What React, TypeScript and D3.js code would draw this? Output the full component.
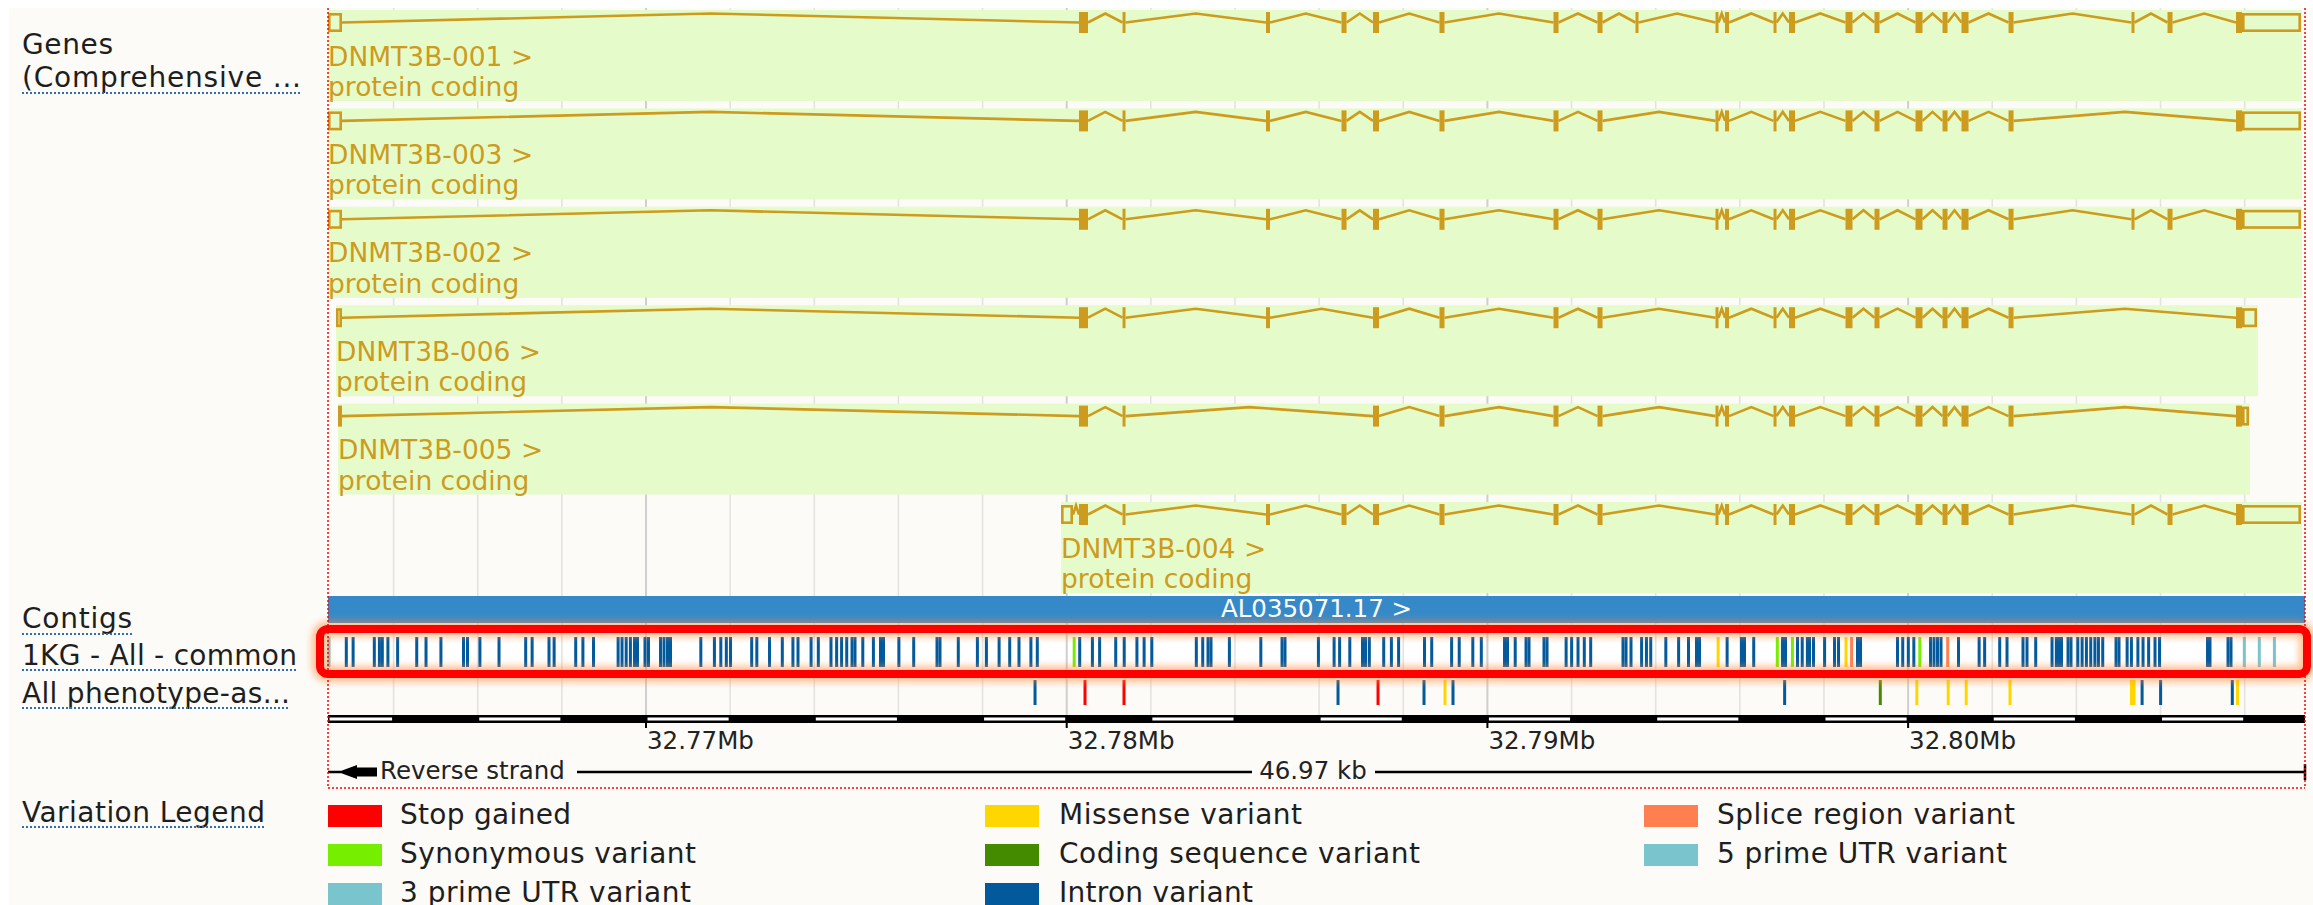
import React from 'react';
import * as d3 from 'd3';

// ---------- DATA ----------
const REGION: [number, number] = [32762441, 32809434];
const tickPositions = [32770000, 32780000, 32790000, 32800000];
const tickLabels = ['32.77Mb', '32.78Mb', '32.79Mb', '32.80Mb'];
const regionLengthLabel = '46.97 kb';
const strandLabel = 'Reverse strand';
const contigName = 'AL035071.17 >';

const trackLabels = ['Genes', '(Comprehensive ...', 'Contigs', '1KG - All - common', 'All phenotype-as...', 'Variation Legend'];

// exon table (bp); ids starting with U are UTR (hollow) blocks
const exonTable: Record<string, [number, number]> = {
  U5a: [32762441, 32762774],
  U5b: [32762631, 32762774],
  C5c: [32762679, 32762774],
  U5d: [32779865, 32780150],
  E1: [32780292, 32780506],
  E2: [32781327, 32781398],
  E3: [32784737, 32784832],
  E4: [32786532, 32786651],
  E5: [32787281, 32787423],
  E6: [32788861, 32788980],
  E7: [32791571, 32791690],
  E8: [32792617, 32792736],
  E9: [32793520, 32793592],
  E10: [32795422, 32795493],
  E11: [32795648, 32795743],
  E12: [32796801, 32796872],
  E13: [32797169, 32797312],
  E14: [32798512, 32798678],
  E15: [32799201, 32799320],
  E16: [32800176, 32800342],
  E17: [32800818, 32800937],
  E18: [32801269, 32801436],
  E19: [32802387, 32802506],
  E20: [32805310, 32805381],
  E21: [32806166, 32806285],
  E22: [32807794, 32807937],
  U3a: [32807937, 32809339],
  U3b: [32807937, 32808293],
  U3c: [32807937, 32808103],
};

const transcriptNames = ['DNMT3B-001 >', 'DNMT3B-003 >', 'DNMT3B-002 >', 'DNMT3B-006 >', 'DNMT3B-005 >', 'DNMT3B-004 >'];
const transcriptBiotypes = ['protein coding', 'protein coding', 'protein coding', 'protein coding', 'protein coding', 'protein coding'];
const tx001 = ['U5a', 'E1', 'E2', 'E3', 'E4', 'E5', 'E6', 'E7', 'E8', 'E9', 'E10', 'E11', 'E12', 'E13', 'E14', 'E15', 'E16', 'E17', 'E18', 'E19', 'E20', 'E21', 'E22', 'U3a'];
const tx003 = ['U5a', 'E1', 'E2', 'E3', 'E4', 'E5', 'E6', 'E7', 'E8', 'E10', 'E11', 'E12', 'E13', 'E14', 'E15', 'E16', 'E17', 'E18', 'E19', 'E22', 'U3a'];
const tx002 = ['U5a', 'E1', 'E2', 'E3', 'E4', 'E5', 'E6', 'E7', 'E8', 'E10', 'E11', 'E12', 'E13', 'E14', 'E15', 'E16', 'E17', 'E18', 'E19', 'E20', 'E21', 'E22', 'U3a'];
const tx006 = ['U5b', 'E1', 'E2', 'E3', 'E5', 'E6', 'E7', 'E8', 'E10', 'E11', 'E12', 'E13', 'E14', 'E15', 'E16', 'E17', 'E18', 'E19', 'E22', 'U3b'];
const tx005 = ['C5c', 'E1', 'E2', 'E5', 'E6', 'E7', 'E8', 'E10', 'E11', 'E12', 'E13', 'E14', 'E15', 'E16', 'E17', 'E18', 'E19', 'E22', 'U3c'];
const tx004 = ['U5d', 'E1', 'E2', 'E3', 'E4', 'E5', 'E6', 'E7', 'E8', 'E10', 'E11', 'E12', 'E13', 'E14', 'E15', 'E16', 'E17', 'E18', 'E19', 'E20', 'E21', 'E22', 'U3a'];
const transcriptExons = [tx001, tx003, tx002, tx006, tx005, tx004];

// 1KG - All - common variants (bp)
const kgIntron = [
  32762876, 32763038, 32763542, 32763663, 32763732, 32763865, 32764096, 32764550, 32764771, 32765125,
  32765662, 32765757, 32766052, 32766506, 32767140, 32767293, 32767694, 32767816, 32768329, 32768500,
  32768752, 32769337, 32769430, 32769529, 32769629, 32769727, 32769798, 32769976, 32770059, 32770345,
  32770428, 32770511, 32770582, 32771303, 32771626, 32771778, 32771909, 32772009, 32772512, 32772634,
  32772936, 32773240, 32773492, 32773613, 32773924, 32774096, 32774397, 32774531, 32774649, 32774771,
  32774897, 32774968, 32775153, 32775405, 32775574, 32775645, 32776011, 32776363, 32776917, 32776988,
  32777423, 32777877, 32778091, 32778393, 32778645, 32778866, 32779149, 32779301, 32780309, 32780611,
  32780782, 32781165, 32781367, 32781669, 32781840, 32782023, 32783081, 32783233, 32783359, 32783430,
  32783867, 32784614, 32785118, 32785189, 32785983, 32786356, 32786487, 32786729, 32787031, 32787103,
  32787193, 32787535, 32787718, 32787889, 32788505, 32788676, 32789149, 32789330, 32789653, 32789855,
  32790407, 32790478, 32790661, 32790918, 32790989, 32791345, 32791417, 32791871, 32792002, 32792154,
  32792303, 32792455, 32793223, 32793295, 32793413, 32793665, 32793780, 32793882, 32794241, 32794545,
  32794780, 32794970, 32795042, 32795698, 32796040, 32796111, 32796330, 32797015, 32797086, 32797371,
  32797483, 32797606, 32797656, 32797751, 32798015, 32798251, 32798346, 32798797, 32798869, 32799748,
  32799872, 32800005, 32800136, 32800533, 32800616, 32800699, 32800782, 32801198, 32801688, 32801819,
  32802177, 32802351, 32802731, 32802826, 32803033, 32803421, 32803523, 32803575, 32803646, 32803801,
  32803872, 32804034, 32804136, 32804238, 32804341, 32804440, 32804524, 32804626, 32804942, 32805013,
  32805206, 32805308, 32805462, 32805584, 32805717, 32805869, 32805976, 32807117, 32807176, 32807604,
  32807675,
];
const kgSynonymous = [32780178, 32796891, 32797250, 32800278];
const kgMissense = [32795484, 32798524];
const kgSplice = [32798657, 32800941];
const kgUtr = [32762465, 32807992, 32808348, 32808707];

// All phenotype-associated variants (bp)
const phIntron = [32779247, 32786449, 32788493, 32789182, 32797065, 32805562, 32806002, 32807706];
const phStop = [32780435, 32781362, 32787400];
const phMissense = [32788992, 32800207, 32800953, 32801381, 32802422, 32805310, 32805370, 32807830];
const phCoding = [32799339];

// legend
const legendLabels = ['Stop gained', 'Synonymous variant', '3 prime UTR variant', 'Missense variant', 'Coding sequence variant', 'Intron variant', 'Splice region variant', '5 prime UTR variant'];
const legendColors = ['#ff0000', '#76ee00', '#7ac5cd', '#ffd700', '#458b00', '#02599c', '#ff7f50', '#7ac5cd'];

// ---------- STYLE ----------
const FONT = "'DejaVu Sans', sans-serif";
const GENE = '#cd9b1d';
const C = { intron: '#02599c', syn: '#76ee00', mis: '#ffd700', splice: '#ff7f50', utr: '#7ac5cd', stop: '#ff0000', coding: '#458b00' };

export default function App() {
  const x0 = 328, x1 = 2305;
  const xs = d3.scaleLinear().domain(REGION).range([x0, x1]);
  const grid = d3.range(32764000, REGION[1], 2000);
  const segs = d3.range(32762000, REGION[1], 2000);

  const rowY = (i: number) => 22.5 + i * 98.4;

  const leftLayout = [
    { y: 54, w: 91 },
    { y: 87, w: 279, ul: 93 },
    { y: 628, w: 110, ul: 634 },
    { y: 665, w: 275, ul: 670 },
    { y: 703, w: 268, ul: 708 },
    { y: 822, w: 243, ul: 827 },
  ];
  const legendCols = [{ sx: 328, tx: 400 }, { sx: 985, tx: 1059 }, { sx: 1644, tx: 1717 }];
  const legendRows = [805, 844, 883];
  const legendTextW = [171, 296, 291, 243, 361, 194, 298, 290];
  const legendPos = [[0, 0], [0, 1], [0, 2], [1, 0], [1, 1], [1, 2], [2, 0], [2, 1]];

  const bars = (arr: number[], color: string, y: number, h: number, key: string) =>
    arr.map((p, i) => <rect key={key + i} x={xs(p) - 1.5} y={y} width={3} height={h} fill={color} />);

  return (
    <svg width={2313} height={905} style={{ position: 'absolute', left: 0, top: 0, display: 'block' }} fontFamily={FONT}>
      <defs>
        <filter id="glow" x="-5%" y="-100%" width="110%" height="300%">
          <feGaussianBlur stdDeviation="3.5" />
        </filter>
      </defs>
      <rect x={0} y={0} width={2313} height={905} fill="#ffffff" />
      <rect x={9} y={8} width={2304} height={897} fill="#fcfbf7" />

      {/* variant track white background */}
      <rect x={x0} y={625} width={x1 - x0} height={53} fill="#ffffff" />

      {/* gridlines */}
      {grid.map((g) => (
        <line key={'g' + g} x1={xs(g)} x2={xs(g)} y1={8} y2={715}
          stroke={g % 10000 === 0 ? '#cfcfcf' : '#e3e3e0'} strokeWidth={g % 10000 === 0 ? 2 : 1.6} />
      ))}

      {/* transcripts */}
      {transcriptExons.map((ids, i) => {
        const yc = rowY(i);
        const ex = ids.map((id) => ({ id, s: exonTable[id][0], e: exonTable[id][1], utr: id.startsWith('U') }));
        const xs0 = xs(ex[0].s);
        const xe = xs(ex[ex.length - 1].e);
        const introns = [] as React.ReactNode[];
        for (let k = 1; k < ex.length; k++) {
          const a = xs(ex[k - 1].e), b = xs(ex[k].s);
          if (b - a > 1.5) {
            const m = (a + b) / 2;
            introns.push(<polyline key={'in' + k} points={`${a},${yc} ${m},${yc - 9} ${b},${yc}`} fill="none" stroke={GENE} strokeWidth={2.6} />);
          }
        }
        return (
          <g key={'tx' + i}>
            <rect x={xs0} y={yc - 12.5} width={Math.min(x1, xe + 1) - xs0} height={91} fill="#e5fbca" />
            {introns}
            {ex.map((e, k) => {
              const a = xs(e.s), b = xs(e.e);
              if (e.utr) {
                return <rect key={'e' + k} x={a + 1.3} y={yc - 8.2} width={Math.max(1, b - a - 2.6)} height={16.4} fill="none" stroke={GENE} strokeWidth={2.6} />;
              }
              const w = Math.max(2.6, b - a);
              return <rect key={'e' + k} x={(a + b) / 2 - w / 2} y={yc - 10.5} width={w} height={21} fill={GENE} />;
            })}
            <text x={xs0} y={yc + 43} fontSize={26.5} fill={GENE}>{transcriptNames[i]}</text>
            <text x={xs0} y={yc + 73.5} fontSize={26.5} fill={GENE}>{transcriptBiotypes[i]}</text>
          </g>
        );
      })}

      {/* contig */}
      <rect x={x0} y={596} width={x1 - x0} height={27} fill="#3689c8" />
      <text x={(x0 + x1) / 2} y={617} fontSize={24.5} fill="#ffffff" textAnchor="middle">{contigName}</text>

      {/* 1KG variants */}
      {bars(kgIntron, C.intron, 637, 30, 'ki')}
      {bars(kgSynonymous, C.syn, 637, 30, 'ks')}
      {bars(kgMissense, C.mis, 637, 30, 'km')}
      {bars(kgSplice, C.splice, 637, 30, 'kp')}
      {bars(kgUtr, C.utr, 637, 30, 'ku')}

      {/* phenotype variants */}
      {bars(phIntron, C.intron, 680, 25, 'pi')}
      {bars(phStop, C.stop, 680, 25, 'ps')}
      {bars(phCoding, C.coding, 680, 25, 'pc')}
      {bars(phMissense, C.mis, 680, 25, 'pm')}

      {/* highlight box */}
      <rect x={320} y={629} width={1987} height={45} rx={8} fill="none" stroke="#ff8a3a" strokeWidth={16} opacity={0.55} filter="url(#glow)" />
      <rect x={320} y={629} width={1987} height={45} rx={8} fill="none" stroke="#ff0000" strokeWidth={8} />

      {/* scale bar */}
      <rect x={x0} y={715} width={x1 - x0} height={8} fill="#000000" />
      {segs.filter((s) => ((s - 32762000) / 2000) % 2 === 0).map((s) => {
        const a = Math.max(x0, xs(s)) + 1.5, b = Math.min(x1, xs(s + 2000)) - 1.5;
        return <rect key={'sg' + s} x={a} y={717.5} width={Math.max(0, b - a)} height={3} fill="#ffffff" />;
      })}
      {tickPositions.map((t, i) => (
        <g key={'t' + t}>
          <line x1={xs(t)} x2={xs(t)} y1={723} y2={728} stroke="#000" strokeWidth={2} />
          <text x={xs(t) + 1} y={749} fontSize={24.5} fill="#222">{tickLabels[i]}</text>
        </g>
      ))}

      {/* strand / length line */}
      <line x1={x0} x2={341} y1={772} y2={772} stroke="#000" strokeWidth={2.5} />
      <polygon points="338,772 357,765 357,779" fill="#000" />
      <rect x={356} y={767.5} width={21} height={9} fill="#000" />
      <text x={380} y={779} fontSize={24.5} fill="#222">{strandLabel}</text>
      <line x1={577} x2={1252} y1={772} y2={772} stroke="#000" strokeWidth={2.5} />
      <text x={1313} y={779} fontSize={24.5} fill="#222" textAnchor="middle">{regionLengthLabel}</text>
      <line x1={1375} x2={x1} y1={772} y2={772} stroke="#000" strokeWidth={2.5} />
      <line x1={x1} x2={x1} y1={764} y2={780} stroke="#000" strokeWidth={2.5} />

      {/* track area border */}
      <line x1={x0} x2={x0} y1={8} y2={788} stroke="#ff0000" strokeWidth={1.5} strokeDasharray="2 2" />
      <line x1={x1} x2={x1} y1={8} y2={788} stroke="#ff0000" strokeWidth={1.5} strokeDasharray="2 2" />
      <line x1={x0} x2={x1} y1={788} y2={788} stroke="#ff0000" strokeWidth={1.5} strokeDasharray="2 2" />

      {/* left labels */}
      {trackLabels.map((t, i) => {
        const L = leftLayout[i];
        return (
          <g key={'ll' + i}>
            <text x={22} y={L.y} fontSize={28} fill="#1e1e1e" textLength={L.w} lengthAdjust="spacing">{t}</text>
            {L.ul ? <line x1={22} x2={22 + L.w} y1={L.ul} y2={L.ul} stroke="#2f6db5" strokeWidth={2} strokeDasharray="2 2" /> : null}
          </g>
        );
      })}

      {/* legend */}
      {legendLabels.map((l, i) => {
        const [c, r] = legendPos[i];
        const col = legendCols[c];
        const y = legendRows[r];
        return (
          <g key={'lg' + i}>
            <rect x={col.sx} y={y} width={54} height={22} fill={legendColors[i]} />
            <text x={col.tx} y={y + 18.5} fontSize={28} fill="#1e1e1e" textLength={legendTextW[i]} lengthAdjust="spacing">{l}</text>
          </g>
        );
      })}
    </svg>
  );
}
